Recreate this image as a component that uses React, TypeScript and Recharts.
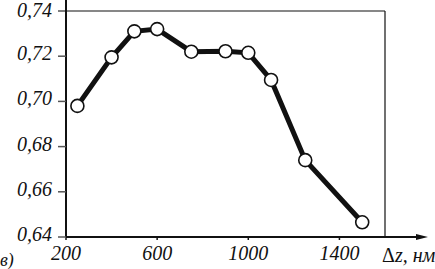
import React from 'react';
import { LineChart, Line, XAxis, YAxis, ReferenceLine } from 'recharts';

const dzValues = [250, 400, 500, 600, 750, 900, 1000, 1100, 1250, 1500];
const yValues = [0.698, 0.7195, 0.731, 0.732, 0.722, 0.7222, 0.7215, 0.7095, 0.674, 0.6465];
const xTicks = [200, 600, 1000, 1400];
const yTicks = [0.64, 0.66, 0.68, 0.7, 0.72, 0.74];

const data = dzValues.map((dz, i) => ({ dz, v: yValues[i] }));

const FONT = "'Liberation Serif', 'Times New Roman', Times, serif";
const W = 435;
const H = 269;

const fmt = (v: number) => v.toFixed(2).replace('.', ',');

function YTick(props: any) {
  const { x, y, payload } = props;
  // keep the top label just inside the picture
  return (
    <text x={x} y={Math.max(y + 4, 17)} textAnchor="end" style={{ fontFamily: FONT, fontSize: 20, fontStyle: 'italic' }} fill="#111">
      {fmt(payload.value)}
    </text>
  );
}

function XTick(props: any) {
  const { x, y, payload } = props;
  return (
    <text x={x} y={y + 14} textAnchor="middle" style={{ fontFamily: FONT, fontSize: 20, fontStyle: 'italic' }} fill="#111">
      {payload.value}
    </text>
  );
}

export default function App() {
  return (
    <div style={{ position: 'absolute', left: 0, top: 0, width: W, height: H, background: '#fff' }}>
      <LineChart width={W} height={H} data={data} margin={{ top: 11, right: 50, bottom: 0, left: 0 }}>
        <XAxis
          type="number"
          dataKey="dz"
          domain={[200, 1600]}
          ticks={xTicks}
          height={32}
          tickSize={3}
          tickMargin={6}
          axisLine={{ stroke: '#111', strokeWidth: 2 }}
          tickLine={{ stroke: '#111', strokeWidth: 1.5 }}
          tick={<XTick />}
        />
        <YAxis
          type="number"
          domain={[0.64, 0.74]}
          ticks={yTicks}
          width={66}
          tickSize={8}
          tickMargin={6}
          axisLine={{ stroke: '#111', strokeWidth: 2 }}
          tickLine={{ stroke: '#555', strokeWidth: 1.5 }}
          tick={<YTick />}
        />
        <ReferenceLine y={0.74} stroke="#111" strokeWidth={1.2} />
        <ReferenceLine x={1600} stroke="#111" strokeWidth={1.2} />
        <Line
          type="linear"
          dataKey="v"
          stroke="#111"
          strokeWidth={5}
          isAnimationActive={false}
          dot={{ r: 6.5, fill: '#fff', stroke: '#111', strokeWidth: 1.6 }}
        />
      </LineChart>
      <svg width={W} height={H} style={{ position: 'absolute', left: 0, top: 0, pointerEvents: 'none' }}>
        <line x1={385} y1={237} x2={420} y2={237} stroke="#111" strokeWidth={2} />
        <polygon points="416,234 428,237 416,240" fill="#111" />
        <line x1={66} y1={0} x2={66} y2={12} stroke="#111" strokeWidth={2} />
        <text x={382} y={262} style={{ fontFamily: FONT, fontSize: 20 }} fill="#111">
          Δ<tspan fontStyle="italic">z, нм</tspan>
        </text>
        <text x={0} y={266} style={{ fontFamily: FONT, fontSize: 18, fontStyle: 'italic' }} fill="#111">
          в)
        </text>
      </svg>
    </div>
  );
}
